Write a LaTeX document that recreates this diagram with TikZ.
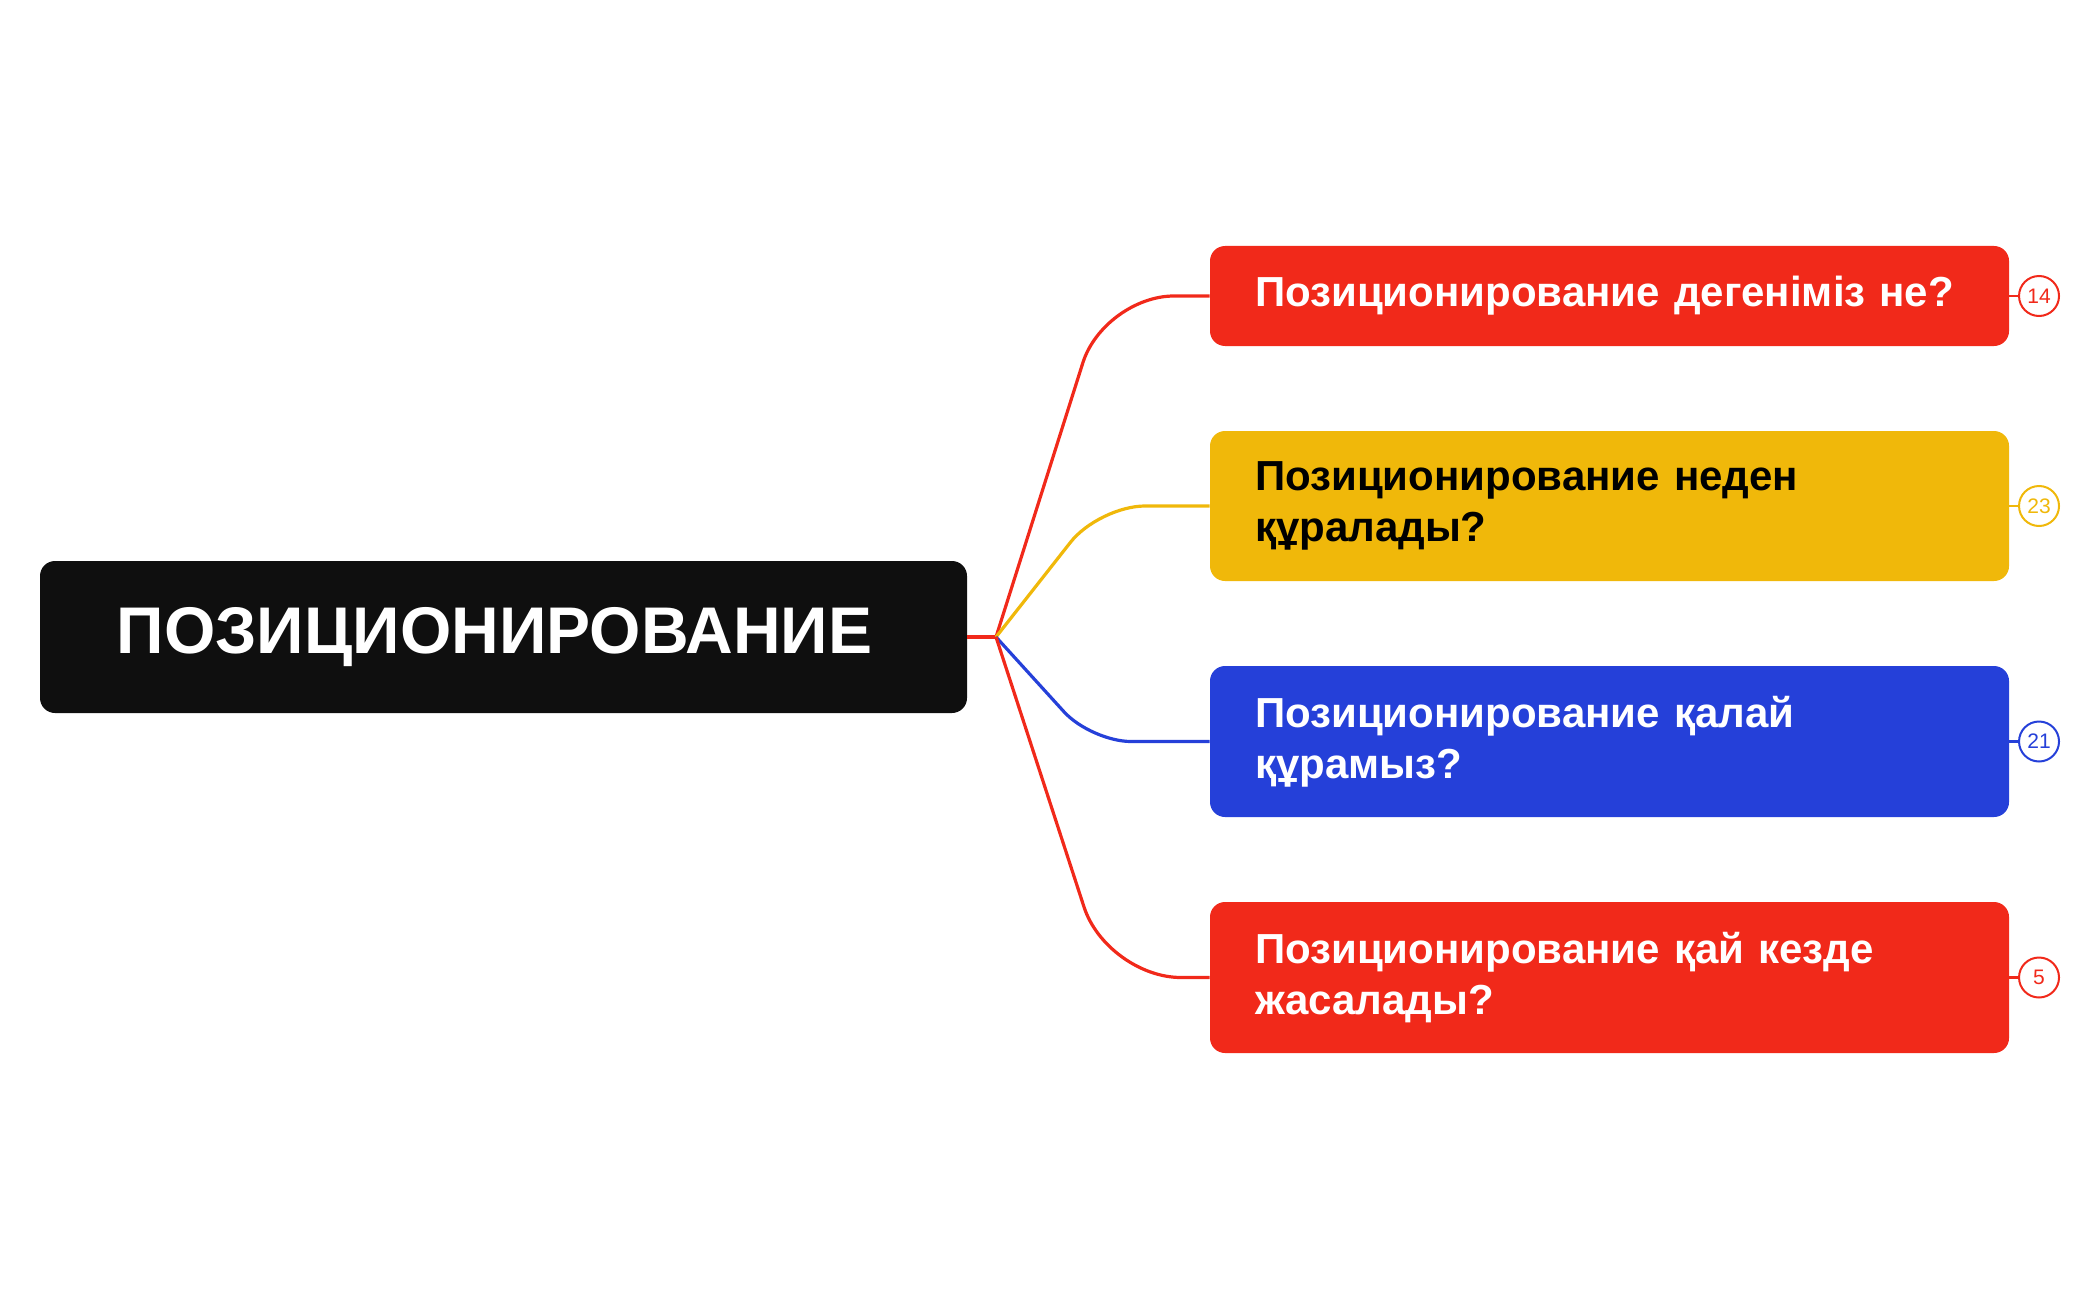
\documentclass[tikz,border=0pt]{standalone}
\usepackage{fontspec}
\setmainfont{Liberation Sans}
\newfontfamily\rootfont{Liberation Sans}
\newfontfamily\childfont{Liberation Sans}
\newfontfamily\badgefont{Liberation Sans}
\definecolor{mmred}{HTML}{F1291A}
\definecolor{mmyellow}{HTML}{F0B80A}
\definecolor{mmblue}{HTML}{2540D9}
\definecolor{mmblack}{HTML}{0F0F0F}
\begin{document}
\begin{tikzpicture}[x=0.5pt,y=-0.5pt,
  rootbox/.style={fill=mmblack, rounded corners=7.5pt, minimum width=463.5pt, minimum height=76pt, inner sep=0pt,
    text=white, font=\rootfont\bfseries\fontsize{33}{40}\selectfont},
  childbox/.style={fill=#1, rounded corners=7.5pt, inner xsep=22.5pt, inner ysep=0pt, text width=354.5pt, align=left,
    font=\childfont\bfseries\fontsize{21}{25.5}\selectfont},
  badge/.style={circle, draw=#1, line width=1pt, fill=white, minimum size=20pt, inner sep=0pt, text=#1,
    font=\badgefont\fontsize{10.5}{12}\selectfont},
  conn/.style={draw=#1, line width=1.6pt},
  blink/.style={draw=#1, line width=1.2pt}
]
\useasboundingbox (0,0) rectangle (2097,1300);

\node[rootbox] (root) at (503.5,637) {\raisebox{-2pt}{ПОЗИЦИОНИРОВАНИЕ}\hspace*{9pt}};

\node[childbox=mmred, text=white, minimum height=50pt] (c1) at (1609.5,296) {Позиционирование дегеніміз не?};
\node[childbox=mmyellow, text=black, minimum height=75pt] (c2) at (1609.5,506) {Позиционирование неден\\құралады?};
\node[childbox=mmblue, text=white, minimum height=75.5pt] (c3) at (1609.5,741.5) {Позиционирование қалай\\құрамыз?};
\node[childbox=mmred, text=white, minimum height=75.5pt] (c4) at (1609.5,977.5) {Позиционирование қай кезде\\жасалады?};

\node[badge=mmred] (b1) at (2039,296) {14};
\node[badge=mmyellow] (b2) at (2039,506) {23};
\node[badge=mmblue] (b3) at (2039,741.5) {21};
\node[badge=mmred] (b4) at (2039,977.5) {5};

\coordinate (J) at (996,637);
\coordinate (k1) at (1104,296);
\coordinate (k2) at (1099,506);
\coordinate (k3) at (1091,741.5);
\coordinate (k4) at (1107,977.5);

\draw[conn=mmred] (root.east) -- (J);
\draw[conn=mmred, rounded corners=35pt] (J) -- (k1) -- (c1.west);
\draw[conn=mmyellow, rounded corners=23pt] (J) -- (k2) -- (c2.west);
\draw[conn=mmblue, rounded corners=20pt] (J) -- (k3) -- (c3.west);
\draw[conn=mmred, rounded corners=37pt] (J) -- (k4) -- (c4.west);

\draw[blink=mmred] (c1.east) -- (b1.west);
\draw[blink=mmyellow] (c2.east) -- (b2.west);
\draw[blink=mmblue] (c3.east) -- (b3.west);
\draw[blink=mmred] (c4.east) -- (b4.west);
\end{tikzpicture}
\end{document}
